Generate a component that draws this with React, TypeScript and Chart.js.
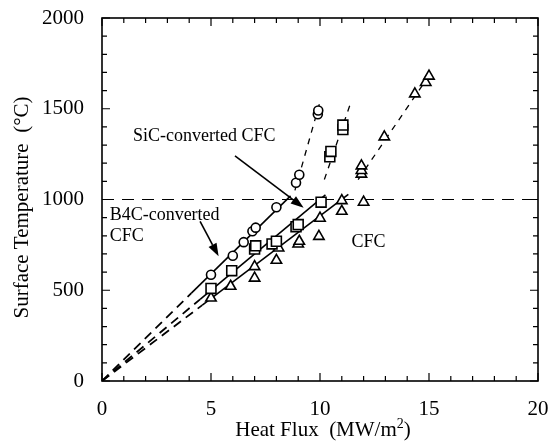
import React, { useEffect, useRef } from "react";
import { Chart, registerables } from "chart.js";
Chart.register(...registerables);

// ---- data ----
const circleX = [5.0, 6.0, 6.5, 6.9, 7.05, 8.0, 8.9, 9.05, 9.9, 9.92];
const circleY = [585, 690, 765, 825, 845, 957, 1092, 1136, 1470, 1490];

const squareX = [5.0, 5.95, 7.0, 7.05, 7.8, 8.0, 8.9, 9.0, 10.05, 10.45, 10.5, 11.05, 11.05];
const squareY = [510, 608, 727, 745, 755, 770, 850, 862, 985, 1235, 1265, 1385, 1410];

const triangleX = [5.0, 5.9, 7.0, 7.0, 8.0, 8.1, 9.0, 9.05, 9.95, 10.0, 11.0, 11.0, 12.0, 11.9, 11.9, 11.9, 12.95, 14.35, 14.85, 15.0];
const triangleY = [457, 522, 567, 630, 665, 733, 755, 770, 797, 897, 935, 994, 985, 1140, 1160, 1185, 1345, 1582, 1645, 1680];

// fitted lines (x pairs / y pairs)
const sicExtX = [0, 4.1];
const sicExtY = [0, 484];
const sicFitX = [4.1, 8.65];
const sicFitY = [484, 1020];
const sicSteepX = [8.85, 9.97];
const sicSteepY = [1050, 1525];

const b4cExtX = [0, 4.5];
const b4cExtY = [0, 450];
const b4cFitX = [4.5, 10.25];
const b4cFitY = [450, 1025];
const b4cSteepX = [10.2, 11.4];
const b4cSteepY = [1110, 1530];

const cfcExtX = [0, 4.6];
const cfcExtY = [0, 418];
const cfcFitX = [4.6, 11.3];
const cfcFitY = [418, 1028];
const cfcSteepX = [11.75, 15.1];
const cfcSteepY = [1110, 1700];

const refLineX = [0, 20];
const refLineY = [1000, 1000];

const xTickLabels = [0, 5, 10, 15, 20];
const yTickLabels = [0, 500, 1000, 1500, 2000];

// annotations: text labels and arrows in data coordinates
const labelTexts = ["SiC-converted CFC", "B4C-converted", "CFC", "CFC"];
const labelX = [4.69, 0.35, 0.35, 12.23];
const labelY = [1348, 912, 796, 762];
const labelAlign = ["center", "left", "left", "center"];

const arrowFromX = [6.1, 4.5];
const arrowFromY = [1240, 880];
const arrowToX = [9.25, 5.35];
const arrowToY = [955, 687];

const FONT = "'Liberation Serif', 'Times New Roman', serif";

function pts(xs: number[], ys: number[]) {
  return xs.map((x, i) => ({ x, y: ys[i] }));
}

const decorPlugin = {
  id: "decor",
  afterDatasetsDraw(chart: any) {
    const ctx = chart.ctx;
    const xs = chart.scales.x;
    const ys = chart.scales.y;
    const { left, right, top, bottom } = chart.chartArea;
    ctx.save();
    ctx.strokeStyle = "#000";
    ctx.fillStyle = "#000";
    // arrows
    for (let i = 0; i < arrowFromX.length; i++) {
      const x1 = xs.getPixelForValue(arrowFromX[i]);
      const y1 = ys.getPixelForValue(arrowFromY[i]);
      const x2 = xs.getPixelForValue(arrowToX[i]);
      const y2 = ys.getPixelForValue(arrowToY[i]);
      const ang = Math.atan2(y2 - y1, x2 - x1);
      const hl = 13, hw = 4.5;
      const bx = x2 - hl * Math.cos(ang);
      const by = y2 - hl * Math.sin(ang);
      ctx.lineWidth = 1.6;
      ctx.beginPath();
      ctx.moveTo(x1, y1);
      ctx.lineTo(bx, by);
      ctx.stroke();
      ctx.beginPath();
      ctx.moveTo(x2, y2);
      ctx.lineTo(bx + hw * Math.sin(ang), by - hw * Math.cos(ang));
      ctx.lineTo(bx - hw * Math.sin(ang), by + hw * Math.cos(ang));
      ctx.closePath();
      ctx.fill();
    }
    // labels
    ctx.font = `18px ${FONT}`;
    ctx.textBaseline = "middle";
    for (let i = 0; i < labelTexts.length; i++) {
      ctx.textAlign = labelAlign[i] as CanvasTextAlign;
      ctx.fillText(labelTexts[i], xs.getPixelForValue(labelX[i]), ys.getPixelForValue(labelY[i]));
    }
    // frame
    ctx.lineWidth = 1.6;
    ctx.strokeRect(left, top, right - left, bottom - top);
    // inward ticks
    ctx.lineWidth = 1.2;
    ctx.beginPath();
    for (let v = 0; v <= 20; v += 1) {
      const px = xs.getPixelForValue(v);
      const len = v % 5 === 0 ? 8 : 5;
      ctx.moveTo(px, bottom);
      ctx.lineTo(px, bottom - len);
      ctx.moveTo(px, top);
      ctx.lineTo(px, top + len);
    }
    for (let v = 0; v <= 2000; v += 100) {
      const py = ys.getPixelForValue(v);
      const len = v % 500 === 0 ? 8 : 5;
      ctx.moveTo(left, py);
      ctx.lineTo(left + len, py);
      ctx.moveTo(right, py);
      ctx.lineTo(right - len, py);
    }
    ctx.stroke();
    // axis titles
    ctx.font = `21px ${FONT}`;
    ctx.textAlign = "center";
    ctx.textBaseline = "middle";
    ctx.save();
    ctx.translate(22, (top + bottom) / 2 + 8);
    ctx.rotate(-Math.PI / 2);
    ctx.fillText("Surface Temperature  (°C)", 0, 0);
    ctx.restore();
    const main = "Heat Flux  (MW/m";
    ctx.font = `21px ${FONT}`;
    const w1 = ctx.measureText(main).width;
    const w3 = ctx.measureText(")").width;
    ctx.font = `14px ${FONT}`;
    const w2 = ctx.measureText("2").width;
    const total = w1 + w2 + w3;
    const cx = (left + right) / 2 + 3;
    const ty = 430;
    let sx = cx - total / 2;
    ctx.textAlign = "left";
    ctx.font = `21px ${FONT}`;
    ctx.fillText(main, sx, ty);
    ctx.font = `14px ${FONT}`;
    ctx.fillText("2", sx + w1, ty - 6);
    ctx.font = `21px ${FONT}`;
    ctx.fillText(")", sx + w1 + w2, ty);
    ctx.restore();
  },
};

export default function App() {
  const ref = useRef<HTMLCanvasElement>(null);
  useEffect(() => {
    document.body.style.margin = "0";
    const lineDs = (xs: number[], ys: number[], dash: number[], width: number) => ({
      type: "line" as const,
      data: pts(xs, ys),
      showLine: true,
      borderColor: "#000",
      borderWidth: width,
      borderDash: dash,
      pointRadius: 0,
      fill: false,
      order: 2,
    });
    const pointDs = (xs: number[], ys: number[], style: string, r: number) => ({
      type: "scatter" as const,
      data: pts(xs, ys),
      pointStyle: style,
      pointRadius: r,
      pointBackgroundColor: "#fff",
      pointBorderColor: "#000",
      pointBorderWidth: 1.6,
      showLine: false,
      order: 1,
    });
    const chart = new Chart(ref.current!, {
      type: "scatter",
      data: {
        datasets: [
          pointDs(circleX, circleY, "circle", 4.5),
          pointDs(squareX, squareY, "rect", 7),
          pointDs(triangleX, triangleY, "triangle", 6),
          lineDs(refLineX, refLineY, [12, 8], 1),
          lineDs(sicExtX, sicExtY, [9, 6], 1.8),
          lineDs(sicFitX, sicFitY, [], 1.6),
          lineDs(sicSteepX, sicSteepY, [6, 6], 1.3),
          lineDs(b4cExtX, b4cExtY, [9, 6], 1.8),
          lineDs(b4cFitX, b4cFitY, [], 1.6),
          lineDs(b4cSteepX, b4cSteepY, [6, 6], 1.3),
          lineDs(cfcExtX, cfcExtY, [9, 6], 1.8),
          lineDs(cfcFitX, cfcFitY, [], 1.6),
          lineDs(cfcSteepX, cfcSteepY, [6, 6], 1.3),
        ] as any,
      },
      options: {
        animation: false,
        responsive: false,
        devicePixelRatio: 1,
        layout: { padding: { top: 18, right: 11, left: 0, bottom: 0 } },
        plugins: { legend: { display: false }, tooltip: { enabled: false } },
        scales: {
          x: {
            type: "linear",
            min: 0,
            max: 20,
            afterBuildTicks: (s: any) => {
              s.ticks = xTickLabels.map((v) => ({ value: v }));
            },
            afterFit: (s: any) => {
              s.height = 65;
              s.paddingLeft = 0;
              s.paddingRight = 0;
            },
            ticks: {
              font: { family: FONT, size: 21 },
              color: "#000",
              padding: 8,
              maxRotation: 0,
              callback: (v: any) => String(v),
            },
            grid: { display: false },
            border: { display: false },
          },
          y: {
            type: "linear",
            min: 0,
            max: 2000,
            afterBuildTicks: (s: any) => {
              s.ticks = yTickLabels.map((v) => ({ value: v }));
            },
            afterFit: (s: any) => {
              s.width = 102;
              s.paddingTop = 0;
              s.paddingBottom = 0;
            },
            ticks: {
              font: { family: FONT, size: 21 },
              color: "#000",
              padding: 10,
              callback: (v: any) => String(v),
            },
            grid: { display: false },
            border: { display: false },
          },
        },
      },
      plugins: [decorPlugin],
    });
    return () => chart.destroy();
  }, []);
  return <canvas ref={ref} width={549} height={446} style={{ display: "block" }} />;
}
